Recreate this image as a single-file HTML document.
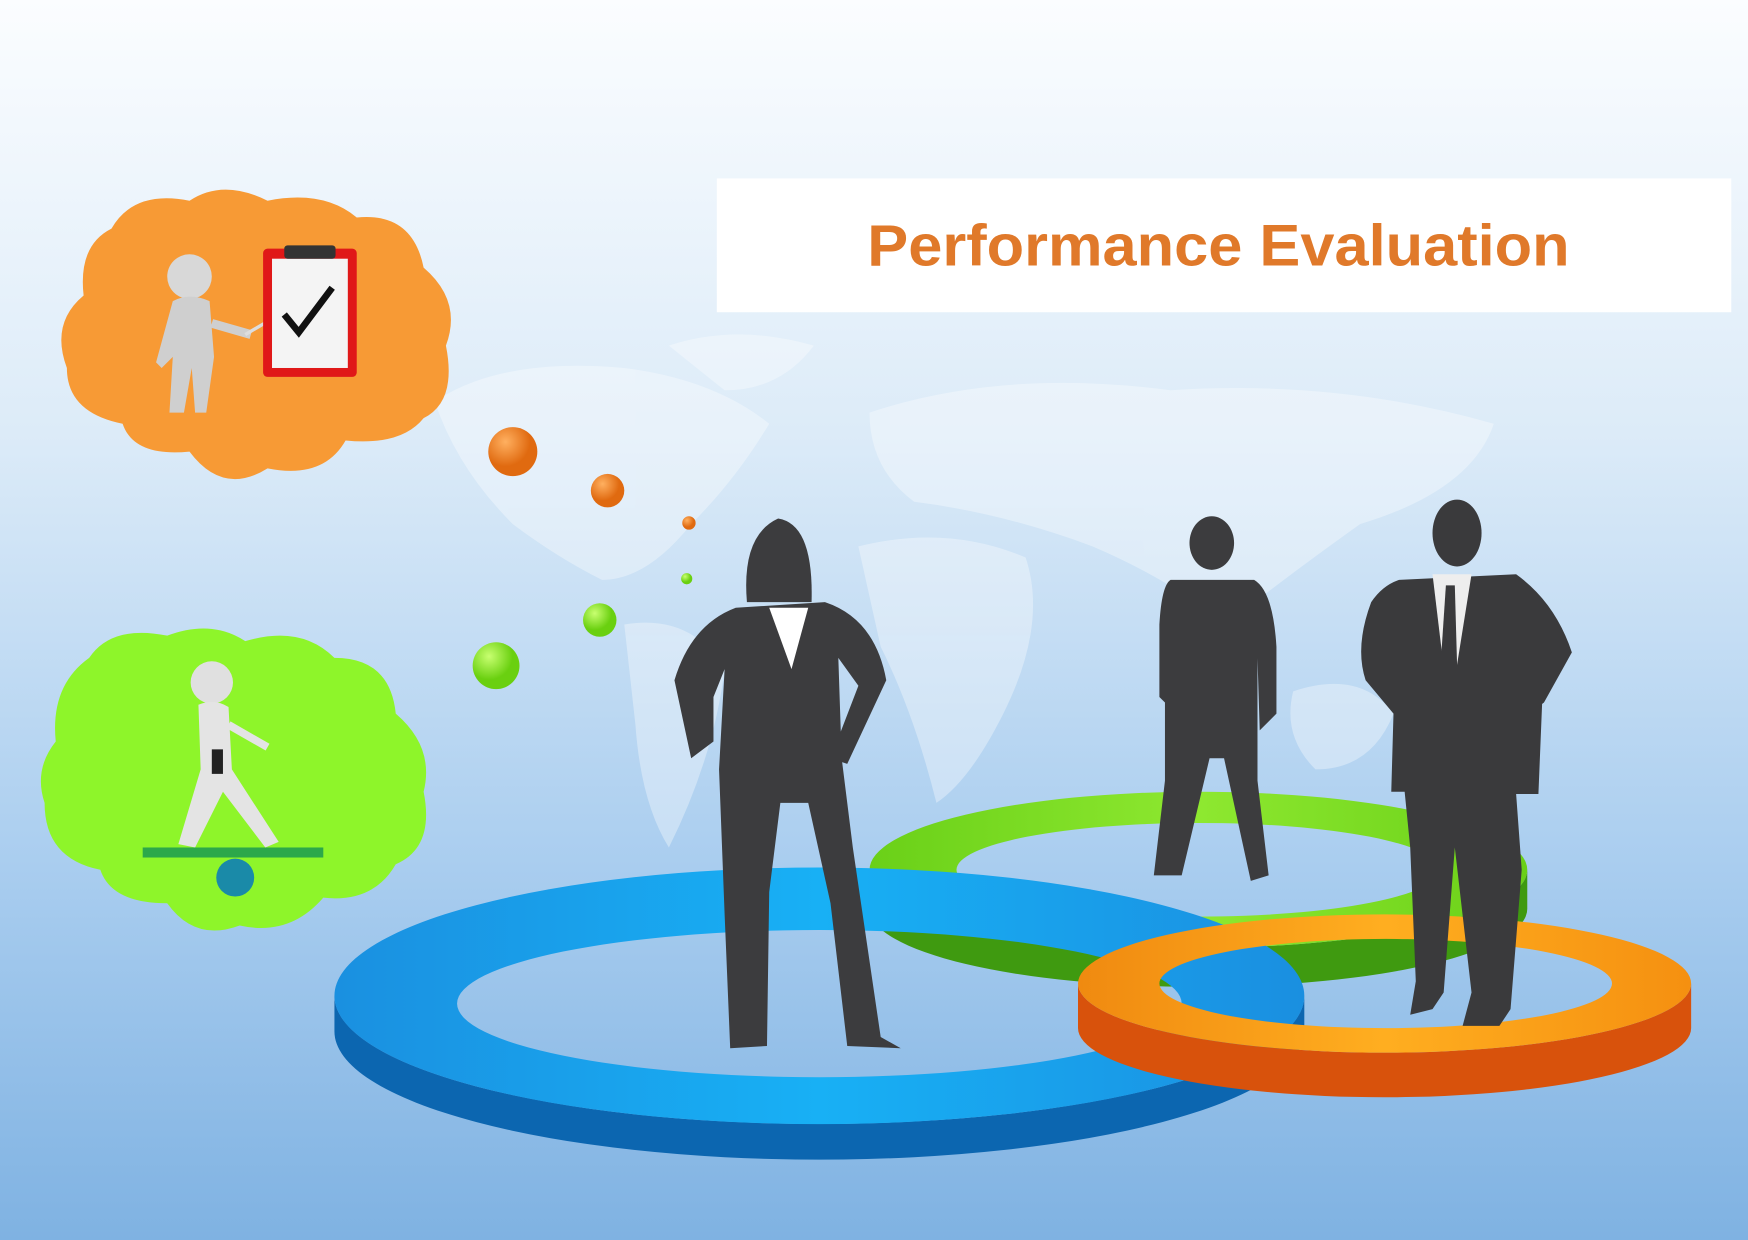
<!DOCTYPE html>
<html><head><meta charset="utf-8">
<style>
html,body{margin:0;padding:0;width:1748px;height:1240px;overflow:hidden}
svg{display:block}
</style></head>
<body>
<svg width="1748" height="1240" viewBox="0 0 1568 1112" preserveAspectRatio="none">
<defs>
<linearGradient id="bg" x1="0" y1="0" x2="0" y2="1">
<stop offset="0" stop-color="#fbfdff"/><stop offset="0.35" stop-color="#dcebf8"/><stop offset="0.7" stop-color="#a9cdef"/><stop offset="1" stop-color="#7fb2e2"/></linearGradient>
<radialGradient id="ob" cx="0.35" cy="0.3"><stop offset="0" stop-color="#ffb060"/><stop offset="1" stop-color="#e06a10"/></radialGradient>
<radialGradient id="gb" cx="0.35" cy="0.3"><stop offset="0" stop-color="#c8ff70"/><stop offset="1" stop-color="#6ad010"/></radialGradient>
<linearGradient id="blueTop" x1="0" x2="1"><stop offset="0" stop-color="#1a90e0"/><stop offset="0.5" stop-color="#18b0f5"/><stop offset="1" stop-color="#1a8fe0"/></linearGradient>
<linearGradient id="greenTop" x1="0" x2="1"><stop offset="0" stop-color="#6ad018"/><stop offset="0.5" stop-color="#8ee830"/><stop offset="1" stop-color="#6ad018"/></linearGradient>
<linearGradient id="orTop" x1="0" x2="1"><stop offset="0" stop-color="#f08a10"/><stop offset="0.5" stop-color="#ffae20"/><stop offset="1" stop-color="#f59010"/></linearGradient>
</defs>
<rect width="1568" height="1112" fill="url(#bg)"/>

<g fill="#ffffff" opacity="0.35">
<path d="M390 360 Q450 320 560 330 Q640 340 690 380 Q660 430 620 470 Q580 520 540 520 Q500 500 460 470 Q410 420 390 360Z"/>
<path d="M600 310 Q660 290 730 310 Q700 350 650 350Z"/>
<path d="M560 560 Q620 550 650 600 Q640 680 600 760 Q575 720 570 650Z"/>
<path d="M780 370 Q900 330 1050 350 Q1200 340 1340 380 Q1320 440 1220 470 Q1150 520 1100 560 Q1050 520 980 490 Q900 460 820 450 Q780 420 780 370Z"/>
<path d="M770 490 Q850 470 920 500 Q940 560 900 640 Q870 700 840 720 Q820 640 790 580Z"/>
<path d="M1160 620 Q1220 600 1250 640 Q1230 690 1180 690 Q1150 660 1160 620Z"/>
</g>

<rect x="643" y="160" width="910" height="120" fill="#ffffff"/>
<text x="778" y="238" textLength="630" lengthAdjust="spacingAndGlyphs" font-family="Liberation Sans, sans-serif" font-weight="bold" font-size="52" fill="#e0792a">Performance Evaluation</text>

<g>
<path d="M100 205 Q120 170 170 180 Q200 160 240 180 Q290 170 320 195 Q370 190 380 240 Q415 270 400 310 Q410 360 380 375 Q360 400 310 395 Q290 430 240 420 Q200 445 170 405 Q120 410 110 380 Q60 370 60 330 Q45 290 75 265 Q70 220 100 205Z" fill="#f79a35"/>
<circle cx="170" cy="248" r="20" fill="#d8d8d8"/>
<path d="M155 270 Q170 262 188 270 L192 320 L185 370 L175 370 L172 330 L165 370 L152 370 L155 320 L145 330 L140 325Z" fill="#cfcfcf"/>
<line x1="190" y1="290" x2="225" y2="300" stroke="#cfcfcf" stroke-width="8"/>
<line x1="220" y1="300" x2="285" y2="262" stroke="#ddd" stroke-width="3"/>
<rect x="236" y="223" width="84" height="115" fill="#e01818" rx="4"/>
<rect x="244" y="232" width="68" height="98" fill="#f4f4f4"/>
<rect x="255" y="220" width="46" height="12" fill="#333" rx="3"/>
<path d="M255 282 L268 298 L298 258" stroke="#111" stroke-width="6" fill="none"/>
</g>
<circle cx="460" cy="405" r="22" fill="url(#ob)"/>
<circle cx="545" cy="440" r="15" fill="url(#ob)"/>
<circle cx="618" cy="469" r="6" fill="url(#ob)"/>

<g>
<path d="M80 590 Q100 560 150 570 Q190 555 220 575 Q270 560 300 590 Q350 590 355 640 Q390 670 380 710 Q390 760 355 775 Q335 810 290 805 Q260 840 215 830 Q175 845 150 810 Q100 810 90 780 Q40 770 40 720 Q30 690 50 665 Q45 615 80 590Z" fill="#8ef52a"/>
<circle cx="190" cy="612" r="19" fill="#e0e0e0"/>
<path d="M178 632 Q192 626 205 634 L208 690 L250 755 L238 760 L200 710 L175 760 L160 757 L180 690 Z" fill="#e4e4e4"/>
<rect x="190" y="672" width="10" height="22" fill="#222"/>
<line x1="205" y1="650" x2="240" y2="670" stroke="#e4e4e4" stroke-width="7"/>
<rect x="128" y="760" width="162" height="9" fill="#2ca84a"/>
<circle cx="211" cy="787" r="17" fill="#1a8aa8"/>
</g>
<circle cx="616" cy="519" r="5" fill="url(#gb)"/>
<circle cx="538" cy="556" r="15" fill="url(#gb)"/>
<circle cx="445" cy="597" r="21" fill="url(#gb)"/>

<g>
<path d="M780 780 A295 70 0 0 0 1370 780 L1370 815 A295 70 0 0 1 780 815Z" fill="#3f9a10"/>
<path fill-rule="evenodd" fill="url(#greenTop)" d="M780 780 A295 70 0 1 0 1370 780 A295 70 0 1 0 780 780Z M858 780 A217 42 0 1 0 1292 780 A217 42 0 1 0 858 780Z"/>
</g>
<g>
<path d="M300 893 A435 115 0 0 0 1170 893 L1170 925 A435 115 0 0 1 300 925Z" fill="#0c66b0"/>
<path fill-rule="evenodd" fill="url(#blueTop)" d="M300 893 A435 115 0 1 0 1170 893 A435 115 0 1 0 300 893Z M410 900 A325 66 0 1 0 1060 900 A325 66 0 1 0 410 900Z"/>
</g>
<g>
<path d="M967 882 A275 62 0 0 0 1517 882 L1517 922 A275 62 0 0 1 967 922Z" fill="#d8520c"/>
<path fill-rule="evenodd" fill="url(#orTop)" d="M967 882 A275 62 0 1 0 1517 882 A275 62 0 1 0 967 882Z M1040 882 A203 40 0 1 0 1446 882 A203 40 0 1 0 1040 882Z"/>
</g>

<g fill="#3c3c3e">
<path d="M670 540 Q665 480 698 465 Q730 470 728 540 Z"/>
<path d="M660 545 L740 540 Q785 555 795 610 L760 685 L745 680 L770 615 L752 590 L755 680 L765 760 L790 930 L808 940 L760 938 L745 810 L725 720 L700 720 L690 800 L688 938 L655 940 L650 820 L645 690 L650 600 L640 625 L640 665 L620 680 L605 610 Q620 560 660 545Z"/>
</g>
<path d="M690 545 L710 600 L725 545Z" fill="#fff"/>
<g fill="#3c3c3e">
<ellipse cx="1087" cy="487" rx="20" ry="24"/>
<path d="M1050 520 L1125 520 Q1142 530 1145 580 L1145 640 L1130 655 L1128 590 L1128 700 L1138 785 L1122 790 L1098 680 L1085 680 L1060 785 L1035 785 L1045 700 L1045 630 L1040 625 L1040 560 Q1042 525 1050 520Z"/>
</g>
<g fill="#3a3a3c">
<ellipse cx="1307" cy="478" rx="22" ry="30"/>
<path d="M1255 520 L1360 515 Q1395 540 1410 585 L1385 630 L1372 640 L1385 590 L1380 712 L1360 712 L1365 780 L1355 905 L1345 920 L1312 920 L1320 890 L1305 760 L1295 890 L1285 905 L1265 910 L1270 880 L1265 760 L1260 710 L1248 710 L1250 640 L1225 610 Q1215 580 1230 540 Q1240 525 1255 520Z"/>
</g>
<path d="M1285 515 L1300 640 L1320 515Z" fill="#eeeeee"/>
<path d="M1297 525 L1305 525 L1308 630 L1300 645 L1290 630Z" fill="#3a3a3c"/>
</svg>
</body></html>
